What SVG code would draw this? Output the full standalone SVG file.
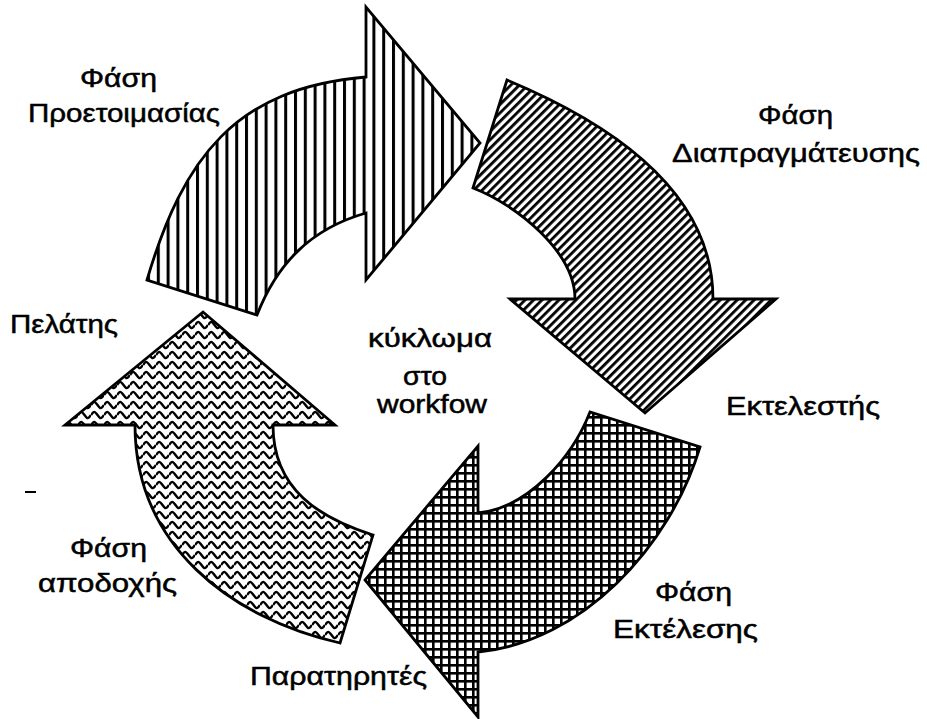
<svg xmlns="http://www.w3.org/2000/svg" width="927" height="719" viewBox="0 0 927 719">
<style>
  .bg { fill: #ffffff; }
  .arrow { stroke: #000; stroke-width: 2.8; stroke-linejoin: miter; }
  .lbl { font-family: "Liberation Sans", Arial, sans-serif; font-size: 26px; fill: #000; stroke: #000; stroke-width: 0.5; }
</style>
<defs>
  <pattern id="pVert" patternUnits="userSpaceOnUse" width="9.8" height="10">
    <rect x="0" y="0" width="9.8" height="10" fill="#fff"/>
    <rect x="0" y="0" width="3" height="10" fill="#000"/>
  </pattern>
  <pattern id="pDiag" patternUnits="userSpaceOnUse" width="6" height="6" patternTransform="rotate(45)">
    <rect x="0" y="0" width="6" height="6" fill="#fff"/>
    <rect x="0" y="0" width="2.8" height="6" fill="#000"/>
  </pattern>
  <pattern id="pGrid" patternUnits="userSpaceOnUse" width="8" height="8">
    <rect x="0" y="0" width="8" height="8" fill="#fff"/>
    <rect x="0" y="0" width="8" height="2.6" fill="#000"/>
    <rect x="0" y="0" width="2.6" height="8" fill="#000"/>
  </pattern>
  <pattern id="pWave" patternUnits="userSpaceOnUse" width="13" height="10">
    <rect x="0" y="0" width="13" height="10" fill="#fff"/>
    <path d="M0,5 C3,0.8 3.5,0.8 6.5,5 C9.5,9.2 10,9.2 13,5" fill="none" stroke="#000" stroke-width="2.4"/>
  </pattern>
</defs>
<rect class="bg" x="0" y="0" width="927" height="719"/>

<g id="connectors">
  <g id="arrow-preparation">
    <path class="arrow" fill="url(#pVert)" d="M147,280 C183,158 235,88 366,77 L366,7 L480,143 L366,280 L366,213 C310,229 277,264 257,315 Z"/>
  </g>
  <g id="arrow-negotiation">
    <path class="arrow" fill="url(#pDiag)" d="M507,80 C610,123 713,190 713,299 L776,299 L645,413 L510,299 L575,299 C575,252 517,205 473,188 Z"/>
  </g>
  <g id="arrow-execution">
    <path class="arrow" fill="url(#pGrid)" d="M700,447 C670,547 582,642 478,652 L478,717 L365,580 L478,446 L478,513 C528,508 572,458 590,412 Z"/>
  </g>
  <g id="arrow-acceptance">
    <path class="arrow" fill="url(#pWave)" d="M135,425 C135,545 230,618 340,643 L373,535 C320,518 273,490 273,425 L335,425 L203,312 L65,425 Z"/>
  </g>
</g>

<g id="label-preparation">
  <text class="lbl" x="80" y="87" textLength="77" lengthAdjust="spacingAndGlyphs">Φάση</text>
  <text class="lbl" x="28" y="122" textLength="192" lengthAdjust="spacingAndGlyphs">Προετοιμασίας</text>
</g>
<g id="label-negotiation">
  <text class="lbl" x="758" y="124" textLength="75" lengthAdjust="spacingAndGlyphs">Φάση</text>
  <text class="lbl" x="672" y="162" textLength="248" lengthAdjust="spacingAndGlyphs">Διαπραγμάτευσης</text>
</g>
<g id="label-center">
  <text class="lbl" x="368" y="347" textLength="124" lengthAdjust="spacingAndGlyphs">κύκλωμα</text>
  <text class="lbl" x="403" y="385" textLength="44" lengthAdjust="spacingAndGlyphs">στο</text>
  <text class="lbl" x="377" y="413" textLength="110" lengthAdjust="spacingAndGlyphs">workfow</text>
</g>
<g id="label-client">
  <text class="lbl" x="10" y="333" textLength="108" lengthAdjust="spacingAndGlyphs">Πελάτης</text>
</g>
<g id="label-executor">
  <text class="lbl" x="726" y="415" textLength="154" lengthAdjust="spacingAndGlyphs">Εκτελεστής</text>
</g>
<g id="label-execution">
  <text class="lbl" x="655" y="601" textLength="77" lengthAdjust="spacingAndGlyphs">Φάση</text>
  <text class="lbl" x="613" y="638" textLength="145" lengthAdjust="spacingAndGlyphs">Εκτέλεσης</text>
</g>
<g id="label-acceptance">
  <text class="lbl" x="70" y="557" textLength="77" lengthAdjust="spacingAndGlyphs">Φάση</text>
  <text class="lbl" x="38" y="592" textLength="139" lengthAdjust="spacingAndGlyphs">αποδοχής</text>
</g>
<g id="label-observers">
  <text class="lbl" x="250" y="685" textLength="177" lengthAdjust="spacingAndGlyphs">Παρατηρητές</text>
</g>
<line x1="25" y1="492" x2="36" y2="492" stroke="#000" stroke-width="2"/>
</svg>
